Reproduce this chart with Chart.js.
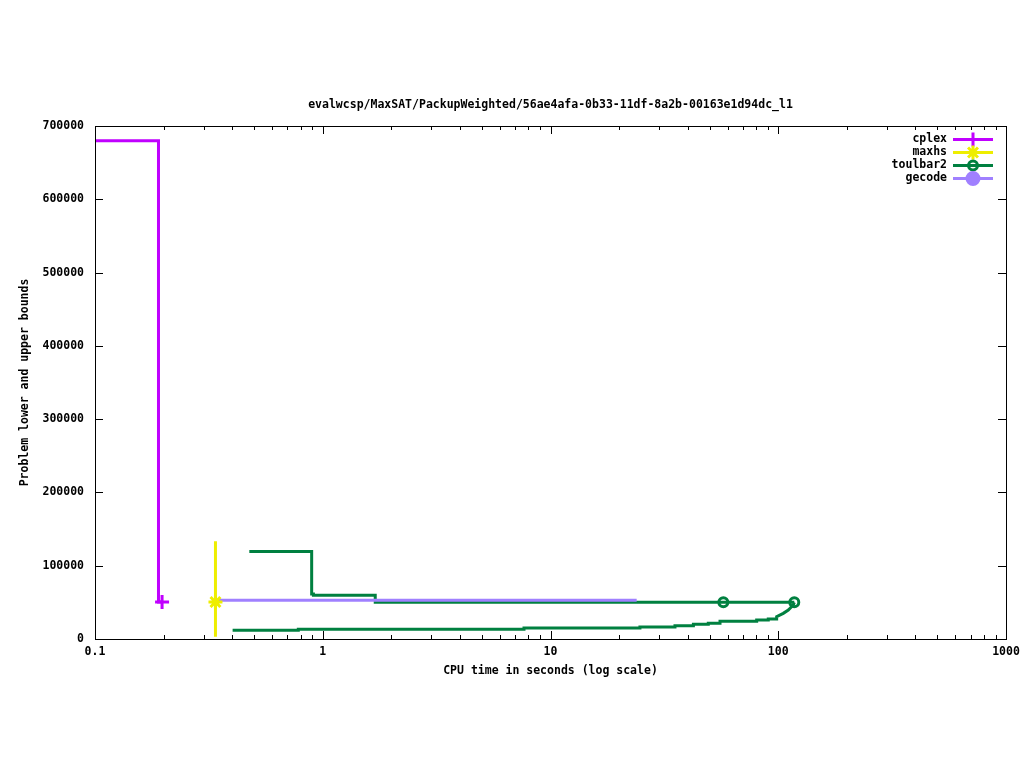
<!DOCTYPE html>
<html><head><meta charset="utf-8">
<script src="https://cdn.jsdelivr.net/npm/chart.js@4.4.1/dist/chart.umd.min.js"></script>
<style>html,body{margin:0;padding:0;background:#fff}#wrap{width:1024px;height:768px}</style>
</head><body><div id="wrap"><canvas id="c" width="1024" height="768"></canvas></div>
<script>
const titleText = "evalwcsp/MaxSAT/PackupWeighted/56ae4afa-0b33-11df-8a2b-00163e1d94dc_l1";
const xAxisTitle = "CPU time in seconds (log scale)";
const yAxisTitle = "Problem lower and upper bounds";
const xTickValues = [0.1, 1, 10, 100, 1000];
const yTickValues = [0, 100000, 200000, 300000, 400000, 500000, 600000, 700000];
const seriesNames = ["cplex", "maxhs", "toulbar2", "gecode"];

const cplexX = [0.1, 0.19, 0.19, 0.197];
const cplexY = [680000, 680000, 50500, 50500];
const cplexMarkX = [0.197];
const cplexMarkY = [50500];

const maxhsX = [0.338, 0.338];
const maxhsY = [133500, 3000];
const maxhsMarkX = [0.338];
const maxhsMarkY = [50500];

const toulbarUpperX = [0.476, 0.894, 0.894, 0.91, 0.91, 1.70, 1.70, 117.6];
const toulbarUpperY = [119500, 119500, 61400, 61400, 59600, 59600, 50000, 50000];
const toulbarLowerX = [0.402, 0.781, 0.781, 7.65, 7.65, 24.7, 24.7, 35.2, 35.2, 42.4, 42.4, 49.3, 49.3, 55.5, 55.5, 80.4, 80.4, 90.4, 90.4, 98.4, 98.4, 105.2, 110.7, 116.4, 117.6];
const toulbarLowerY = [11900, 11900, 13200, 13200, 15000, 15000, 16400, 16400, 18200, 18200, 20000, 20000, 21400, 21400, 24100, 24100, 25900, 25900, 27300, 27300, 30400, 35000, 39600, 46400, 50000];
const toulbarMarkX = [57.4, 117.6];
const toulbarMarkY = [50000, 50000];

const gecodeX = [0.34, 23.9];
const gecodeY = [52800, 52800];

const COL = {cplex:'#c000ff', maxhs:'#eeee00', toulbar2:'#008040', gecode:'#a080ff'};
const FONT = 'bold 11.5px "DejaVu Sans Mono", monospace';

function pts(xs, ys){ return xs.map((x,i)=>({x:x, y:ys[i]})); }

const lineDs = (label, xs, ys, color) => ({label, data: pts(xs, ys), borderColor: color, backgroundColor: color,
  showLine: true, borderWidth: 3, pointRadius: 0, pointHoverRadius: 0, tension: 0, fill: false});
const markDs = (label, xs, ys, color, style, radius, filled) => ({label, data: pts(xs, ys), borderColor: color,
  backgroundColor: filled ? color : 'rgba(0,0,0,0)', showLine: false, pointStyle: style, pointRadius: radius,
  pointBorderWidth: 3, pointHoverRadius: radius});

const legendItems = [
  {name: seriesNames[0], color: COL.cplex, style: 'cross', r: 7, filled: false},
  {name: seriesNames[1], color: COL.maxhs, style: 'star', r: 7, filled: false},
  {name: seriesNames[2], color: COL.toulbar2, style: 'circle', r: 4.5, filled: false},
  {name: seriesNames[3], color: COL.gecode, style: 'circle', r: 6, filled: true}
];

const framePlugin = {
  id: 'frame',
  afterDraw(chart){
    const ctx = chart.ctx, a = chart.chartArea, xs = chart.scales.x, ys = chart.scales.y;
    ctx.save();
    ctx.strokeStyle = '#000'; ctx.lineWidth = 1;
    ctx.strokeRect(a.left + 0.5, a.top + 0.5, a.right - a.left, a.bottom - a.top);
    ctx.beginPath();
    for (let d = -1; d <= 3; d++) {
      for (let m = 1; m <= 9; m++) {
        const v = m * Math.pow(10, d);
        if (v > 1000 + 1e-9) break;
        const px = Math.round(xs.getPixelForValue(v)) + 0.5;
        const len = m === 1 ? 8 : 4;
        ctx.moveTo(px, a.bottom); ctx.lineTo(px, a.bottom - len);
        ctx.moveTo(px, a.top); ctx.lineTo(px, a.top + len);
      }
    }
    yTickValues.forEach(v => {
      const py = Math.round(ys.getPixelForValue(v)) + 0.5;
      ctx.moveTo(a.left, py); ctx.lineTo(a.left + 8, py);
      ctx.moveTo(a.right, py); ctx.lineTo(a.right - 8, py);
    });
    ctx.stroke();

    ctx.fillStyle = '#000'; ctx.font = FONT; ctx.textBaseline = 'middle';
    ctx.textAlign = 'center';
    ctx.fillText(titleText, (a.left + a.right) / 2, 105);
    ctx.fillText(xAxisTitle, (a.left + a.right) / 2, 671);
    ctx.save();
    ctx.translate(25, (a.top + a.bottom) / 2);
    ctx.rotate(-Math.PI / 2);
    ctx.fillText(yAxisTitle, 0, 0);
    ctx.restore();

    legendItems.forEach((it, i) => {
      const y = 139 + i * 13;
      ctx.fillStyle = '#000'; ctx.textAlign = 'right'; ctx.font = FONT;
      ctx.fillText(it.name, 947, y);
      ctx.strokeStyle = it.color; ctx.lineWidth = 3;
      ctx.beginPath(); ctx.moveTo(953, y + 0.5); ctx.lineTo(993, y + 0.5); ctx.stroke();
      ctx.fillStyle = it.filled ? it.color : 'rgba(0,0,0,0)';
      ctx.strokeStyle = it.color; ctx.lineWidth = 3;
      Chart.helpers.drawPoint(ctx, {pointStyle: it.style, radius: it.r, borderWidth: 3}, 973, y + 0.5);
    });
    ctx.restore();
  }
};

new Chart(document.getElementById('c'), {
  type: 'scatter',
  data: {
    datasets: [
      markDs('maxhs', maxhsMarkX, maxhsMarkY, COL.maxhs, 'star', 7, false),
      markDs('cplex', cplexMarkX, cplexMarkY, COL.cplex, 'cross', 7, false),
      markDs('toulbar2', toulbarMarkX, toulbarMarkY, COL.toulbar2, 'circle', 4.5, false),
      lineDs('gecode', gecodeX, gecodeY, COL.gecode),
      lineDs('toulbar2', toulbarUpperX, toulbarUpperY, COL.toulbar2),
      lineDs('toulbar2 lb', toulbarLowerX, toulbarLowerY, COL.toulbar2),
      lineDs('maxhs', maxhsX, maxhsY, COL.maxhs),
      lineDs('cplex', cplexX, cplexY, COL.cplex)
    ]
  },
  options: {
    responsive: false, animation: false, devicePixelRatio: 1,
    layout: {padding: {left: 0, right: 18, top: 126, bottom: 89}},
    plugins: {legend: {display: false}, title: {display: false}, tooltip: {enabled: false}},
    elements: {line: {borderCapStyle: 'butt', borderJoinStyle: 'miter'}},
    scales: {
      x: {
        type: 'logarithmic', min: 0.1, max: 1000,
        afterBuildTicks: s => { s.ticks = xTickValues.map(v => ({value: v})); },
        afterFit: s => { s.height = 40; s.paddingLeft = 0; s.paddingRight = 0; },
        ticks: {callback: v => String(v), autoSkip: false, maxRotation: 0, padding: 6, color: '#000',
          font: {family: '"DejaVu Sans Mono", monospace', size: 11.5, weight: 'bold'}},
        grid: {display: false, drawTicks: false}, border: {display: false}
      },
      y: {
        type: 'linear', min: 0, max: 700000,
        afterBuildTicks: s => { s.ticks = yTickValues.map(v => ({value: v})); },
        afterFit: s => { s.width = 95; s.paddingTop = 0; s.paddingBottom = 0; },
        ticks: {callback: v => String(v), padding: 11, color: '#000',
          font: {family: '"DejaVu Sans Mono", monospace', size: 11.5, weight: 'bold'}},
        grid: {display: false, drawTicks: false}, border: {display: false}
      }
    }
  },
  plugins: [framePlugin]
});
</script></body></html>
